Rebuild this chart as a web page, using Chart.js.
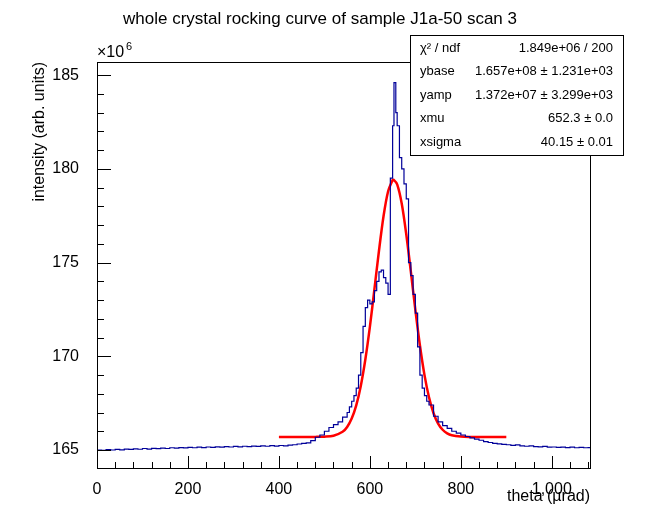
<!DOCTYPE html>
<html><head><meta charset="utf-8">
<script src="https://cdn.jsdelivr.net/npm/chart.js@4"></script>
<style>html,body{margin:0;background:#fff}#c{display:block}</style>
</head><body>
<canvas id="c" width="656" height="522"></canvas>
<script>
// histogram bin low edges (urad) and contents (x1e6)
const thetaEdges = [0,10,20,30,40,50,60,70,80,90,100,110,120,130,140,150,160,170,180,190,200,210,220,230,240,250,260,270,280,290,300,310,320,330,340,350,360,370,380,390,400,410,420,430,440,450,460,470,480,490,500,510,520,530,540,550,555,560,565,570,575,580,585,590,595,600,605,610,615,620,625,630,635,640,645,650,653,657,660,665,670,675,680,685,690,695,700,705,710,715,720,725,730,740,750,760,770,780,790,800,810,820,830,840,850,860,870,880,890,900,910,920,930,940,950,960,970,980,990,1000,1010,1020,1030,1040,1050,1060,1070,1080];
const counts = [165.00,164.98,165.02,165.00,165.03,165.01,165.05,165.03,165.06,165.04,165.08,165.05,165.09,165.07,165.10,165.08,165.12,165.10,165.13,165.11,165.14,165.12,165.15,165.13,165.16,165.14,165.17,165.15,165.18,165.16,165.19,165.17,165.20,165.18,165.21,165.19,165.22,165.20,165.23,165.21,165.24,165.22,165.26,165.28,165.32,165.35,165.38,165.50,165.68,165.80,166.00,166.20,166.35,166.50,166.75,167.0,167.3,167.6,167.9,168.3,169.0,170.2,171.6,172.6,173.0,172.8,172.9,173.5,174.0,174.5,174.6,174.2,173.9,173.3,179.5,182.3,184.6,183.0,182.3,180.6,180.0,179.2,178.4,175.0,174.3,173.3,172.3,170.5,169.0,168.3,167.9,167.6,167.4,166.8,166.5,166.3,166.15,166.0,165.9,165.8,165.72,165.65,165.58,165.52,165.45,165.40,165.35,165.33,165.30,165.28,165.25,165.27,165.22,165.20,165.22,165.18,165.17,165.19,165.15,165.16,165.14,165.15,165.13,165.15,165.12,165.14,165.12,165.13];
const histEnd = 1084;
// gaussian fit curve
const fitX = [400,420,440,460,480,500,520,540,550,560,570,580,590,600,610,620,630,640,650,652,660,670,680,690,700,710,720,730,740,750,760,770,780,800,820,840,860,880,900];
const fitY = [165.70,165.70,165.70,165.70,165.70,165.71,165.76,165.97,166.23,166.68,167.38,168.42,169.83,171.57,173.58,175.63,177.47,178.79,179.40,179.42,179.17,178.15,176.51,174.53,172.48,170.59,169.01,167.81,166.96,166.41,166.08,165.89,165.79,165.72,165.70,165.70,165.70,165.70,165.70];
const statNames = ["χ² / ndf","ybase","yamp","xmu","xsigma"];
const statValues = ["1.849e+06 / 200","1.657e+08 ± 1.231e+03","1.372e+07 ± 3.299e+03","652.3 ± 0.0","40.15 ± 0.01"];

const FONT = "'Liberation Sans', Arial, sans-serif";
const histPts = thetaEdges.map((x, i) => ({ x, y: counts[i] }));
histPts.push({ x: histEnd, y: counts[counts.length - 1] });

const rootDecor = {
  id: "rootDecor",
  afterDraw(chart) {
    const { ctx, chartArea: a, scales: { x, y } } = chart;
    ctx.save();
    ctx.strokeStyle = "#000";
    ctx.lineWidth = 1;
    ctx.strokeRect(a.left + 0.5, a.top + 0.5, a.right - a.left, a.bottom - a.top);
    ctx.beginPath();
    for (let v = 0; v <= histEnd; v += 40) {
      const p = Math.round(x.getPixelForValue(v)) + 0.5;
      const len = v % 200 === 0 ? 12 : 6;
      ctx.moveTo(p, a.bottom); ctx.lineTo(p, a.bottom - len);
    }
    for (let v = 165; v <= 185; v += 1) {
      const p = Math.round(y.getPixelForValue(v)) + 0.5;
      const len = v % 5 === 0 ? 14 : 7;
      ctx.moveTo(a.left, p); ctx.lineTo(a.left + len, p);
    }
    ctx.stroke();

    ctx.fillStyle = "#000";
    ctx.font = "17px " + FONT;
    ctx.textAlign = "center";
    ctx.textBaseline = "middle";
    ctx.fillText("whole crystal rocking curve of sample J1a-50 scan 3", 320, 19);
    ctx.textAlign = "left";
    ctx.font = "16px " + FONT;
    ctx.fillText("×10", 97, 53);
    ctx.font = "11px " + FONT;
    ctx.fillText("6", 126, 47);
    ctx.font = "16px " + FONT;
    ctx.textAlign = "right";
    ctx.fillText("theta (µrad)", 590, 497);
    ctx.save();
    ctx.translate(40, 62);
    ctx.rotate(-Math.PI / 2);
    ctx.fillText("intensity (arb. units)", 0, 0);
    ctx.restore();

    // stats box
    ctx.fillStyle = "#fff";
    ctx.fillRect(410, 35, 213, 120);
    ctx.strokeRect(410.5, 35.5, 213, 120);
    ctx.fillStyle = "#000";
    ctx.font = "13px " + FONT;
    statNames.forEach((n, i) => {
      const yy = 48 + i * 23.6;
      ctx.textAlign = "left";
      ctx.fillText(n, 420, yy);
      ctx.textAlign = "right";
      ctx.fillText(statValues[i], 613, yy);
    });
    ctx.restore();
  }
};

new Chart(document.getElementById("c"), {
  type: "line",
  data: {
    datasets: [
      { data: histPts, stepped: "before", borderColor: "#000099", borderWidth: 1.2, pointRadius: 0, fill: false },
      { data: fitX.map((x, i) => ({ x, y: fitY[i] })), borderColor: "#ff0000", borderWidth: 2.5, pointRadius: 0, tension: 0.3, fill: false }
    ]
  },
  options: {
    responsive: false,
    animation: false,
    events: [],
    layout: { padding: { top: 62, right: 66, left: 0, bottom: 0 } },
    plugins: { legend: { display: false }, tooltip: { enabled: false } },
    scales: {
      x: {
        type: "linear", min: 0, max: histEnd,
        grid: { display: false }, border: { display: false },
        afterFit(s) { s.height = 54; },
        afterBuildTicks(s) { s.ticks = [0, 200, 400, 600, 800, 1000].map(v => ({ value: v })); },
        ticks: { color: "#000", font: { family: FONT, size: 16 }, padding: 4, maxRotation: 0 }
      },
      y: {
        type: "linear", min: 164.04, max: 185.7,
        grid: { display: false }, border: { display: false },
        afterFit(s) { s.width = 97; },
        afterBuildTicks(s) { s.ticks = [165, 170, 175, 180, 185].map(v => ({ value: v })); },
        ticks: { color: "#000", font: { family: FONT, size: 16 }, padding: 10, callback: v => String(v) }
      }
    }
  },
  plugins: [rootDecor]
});
</script>
</body></html>
